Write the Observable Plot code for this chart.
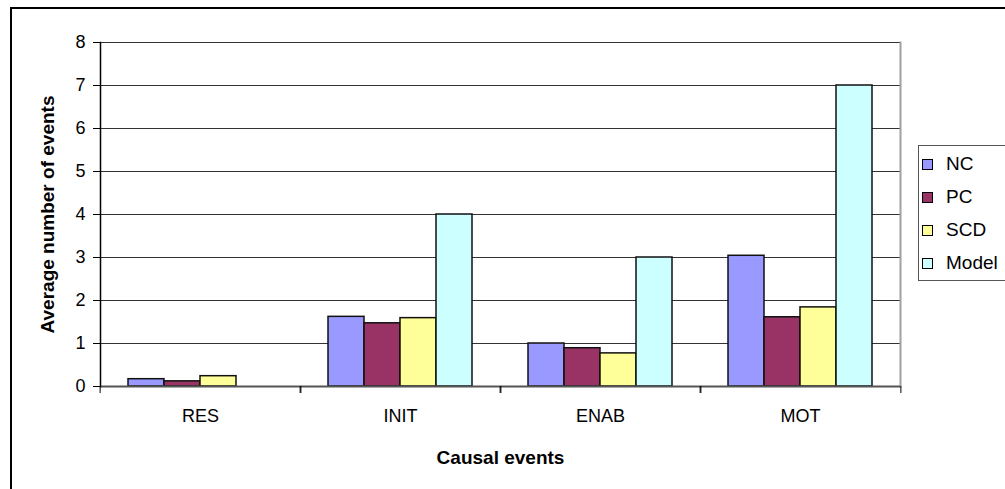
<!DOCTYPE html>
<html>
<head>
<meta charset="utf-8">
<script src="https://cdn.jsdelivr.net/npm/d3@7"></script>
<script src="https://cdn.jsdelivr.net/npm/@observablehq/plot@0.6"></script>
<style>
  html, body { margin: 0; padding: 0; background: #fff; }
  #wrap { position: relative; width: 1005px; height: 489px; overflow: hidden; font-family: "Liberation Sans", Arial, sans-serif; }
  #border { position: absolute; left: 10px; top: 7px; width: 1100px; height: 600px; border-left: 2px solid #000; border-top: 2px solid #000; }
  #chart { position: absolute; left: 0; top: 0; }
  #legend { position: absolute; left: 918px; top: 145px; width: 100px; height: 136px; border: 1px solid #555; background: #fff; box-sizing: border-box; }
  .item { position: absolute; left: 3px; height: 20px; display: flex; align-items: center; font-size: 19px; color: #000; }
  .sw { width: 9px; height: 9px; border: 1px solid #000; margin-right: 13px; }
</style>
</head>
<body>
<div id="wrap">
  <div id="border"></div>
  <div id="chart"></div>
  <div id="legend"></div>
</div>
<script>
const categories = ["RES", "INIT", "ENAB", "MOT"];
const series = ["NC", "PC", "SCD", "Model"];
const nc    = [0.17, 1.62, 1.00, 3.04];
const pc    = [0.12, 1.47, 0.89, 1.61];
const scd   = [0.24, 1.59, 0.77, 1.84];
const model = [0, 4, 3, 7];
const colors = ["#9999FF", "#993366", "#FFFF99", "#CCFFFF"];
const yTicks = [0, 1, 2, 3, 4, 5, 6, 7, 8];

const seriesValues = [nc, pc, scd, model];
const data = [];
categories.forEach((c, i) => {
  series.forEach((s, j) => data.push({category: c, series: s, value: seriesValues[j][i]}));
});

const width = 905, height = 489;
const ml = 98, mr = 4, mt = 42, mb = 103;
const bw = (width - ml - mr) / categories.length;

const chart = Plot.plot({
  width, height,
  marginLeft: ml, marginRight: mr, marginTop: mt, marginBottom: mb,
  style: {fontFamily: "'Liberation Sans', Arial, sans-serif", fontSize: "18px", color: "#000", background: "transparent"},
  fx: {domain: categories, padding: 0, label: null},
  x: {domain: series, paddingInner: 0, paddingOuter: 0.74, axis: null},
  y: {domain: [0, 8], label: null},
  color: {domain: series, range: colors},
  marks: [
    Plot.gridY(yTicks, {stroke: "#333", strokeOpacity: 1, strokeWidth: 1}),
    Plot.frame({anchor: "right", facetAnchor: "right", stroke: "#a0a0a0", strokeWidth: 2}),
    Plot.barY(data.filter(d => d.value > 0), {
      fx: "category", x: "series", y: "value", fill: "series",
      stroke: "#111", strokeWidth: 1.5
    }),
    Plot.ruleY([0], {stroke: "#555", strokeWidth: 2}),
    Plot.frame({anchor: "left", facetAnchor: "left", stroke: "#000", strokeWidth: 1.5}),
    Plot.axisY(yTicks, {tickSize: 7, tickPadding: 8, stroke: "#000", fontSize: 18,
      label: "Average number of events", labelAnchor: "center", labelArrow: "none", labelOffset: 60}),
    Plot.axisFx({anchor: "bottom", text: null, tickSize: 7, dx: -bw / 2, stroke: "#000", label: null}),
    Plot.axisFx({anchor: "bottom", text: null, tickSize: 7, dx: bw / 2, stroke: "#000", label: null}),
    Plot.axisFx({anchor: "bottom", tickSize: 0, tickPadding: 23, fontSize: 18,
      label: "Causal events", labelAnchor: "center", labelArrow: "none", labelOffset: 77})
  ]
});
document.getElementById("chart").appendChild(chart);

// bold axis titles
chart.querySelectorAll("g[aria-label='y-axis label'] text, g[aria-label='fx-axis label'] text").forEach(t => {
  t.setAttribute("font-weight", "bold");
  t.style.fontWeight = "bold";
  t.style.fontSize = "19px";
});

const legend = document.getElementById("legend");
const tops = [8, 41, 74, 107];
series.forEach((s, i) => {
  const item = document.createElement("div");
  item.className = "item";
  item.style.top = tops[i] + "px";
  const sw = document.createElement("div");
  sw.className = "sw";
  sw.style.background = colors[i];
  item.appendChild(sw);
  item.appendChild(document.createTextNode(s));
  legend.appendChild(item);
});
</script>
</body>
</html>
